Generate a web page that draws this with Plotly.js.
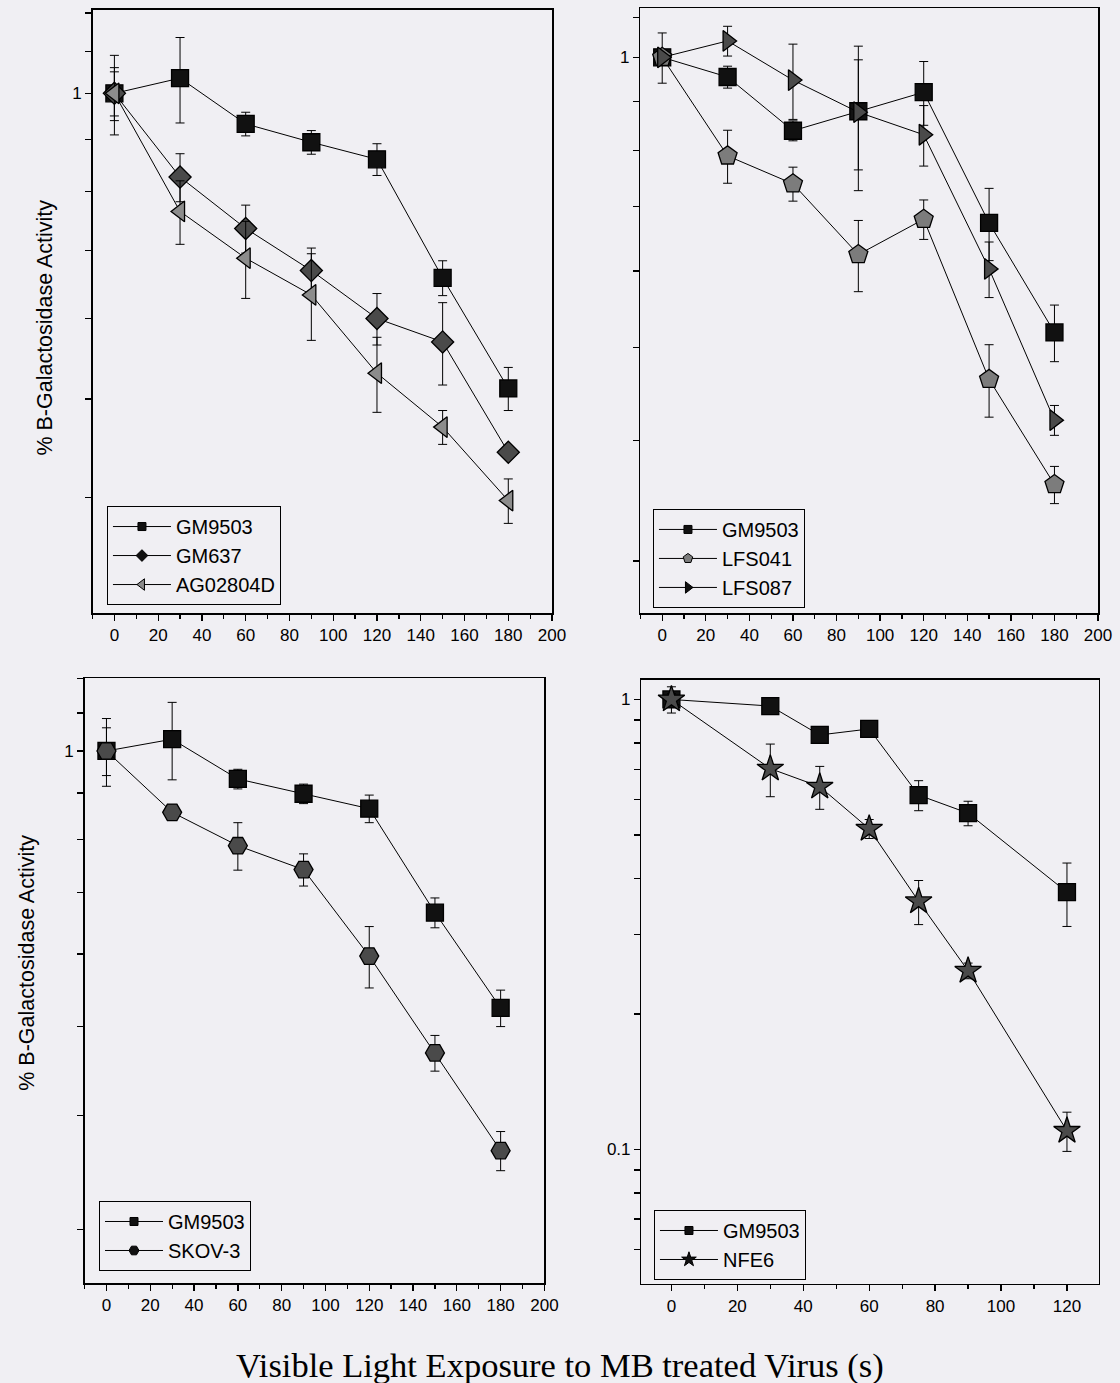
<!DOCTYPE html>
<html><head><meta charset="utf-8">
<script src="https://cdn.plot.ly/plotly-3.0.1.min.js"></script>
<style>html,body{margin:0;padding:0;background:#f0eff3;}</style>
</head><body><div id="chart" style="width:1120px;height:1383px;"></div>
<script>
// ---- Panel A (top-left)
const timeA = [0, 30, 60, 90, 120, 150, 180];
const gm9503A = [1.0, 1.035, 0.933, 0.895, 0.861, 0.658, 0.512];
const gm9503AErr = [0.09, 0.10, 0.025, 0.024, 0.031, 0.026, 0.025];
const gm637A = [1.0, 0.827, 0.736, 0.669, 0.600, 0.569, 0.443];
const gm637AErr = [0.06, 0.045, 0.04, 0.035, 0.035, 0.053, 0.0];
const ag02804dA = [1.0, 0.765, 0.688, 0.633, 0.530, 0.469, 0.397];
const ag02804dAErr = [0.05, 0.055, 0.06, 0.062, 0.045, 0.018, 0.02];
// ---- Panel B (top-right)
const timeB = [0, 30, 60, 90, 120, 150, 180];
const gm9503B = [1.0, 0.954, 0.839, 0.879, 0.920, 0.673, 0.518];
const gm9503BErr = [0.06, 0.025, 0.02, 0.115, 0.07, 0.058, 0.035];
const lfs041B = [1.0, 0.790, 0.739, 0.624, 0.679, 0.463, 0.360];
const lfs041BErr = [0.0, 0.05, 0.03, 0.053, 0.032, 0.04, 0.016];
const lfs087B = [1.0, 1.040, 0.947, 0.877, 0.831, 0.603, 0.420];
const lfs087BErr = [0.0, 0.037, 0.085, 0.15, 0.06, 0.04, 0.015];
// ---- Panel C (bottom-left)
const timeC = [0, 30, 60, 90, 120, 150, 180];
const gm9503C = [1.0, 1.030, 0.932, 0.898, 0.865, 0.666, 0.524];
const gm9503CErr = [0.085, 0.10, 0.023, 0.022, 0.03, 0.025, 0.024];
const skov3C = [1.0, 0.857, 0.788, 0.742, 0.597, 0.468, 0.366];
const skov3CErr = [0.06, 0.0, 0.047, 0.03, 0.046, 0.021, 0.018];
// ---- Panel D (bottom-right)
const timeD = [0, 30, 45, 60, 75, 90, 120];
const gm9503D = [1.0, 0.967, 0.834, 0.860, 0.613, 0.559, 0.373];
const gm9503DErr = [0.067, 0, 0, 0, 0.047, 0.035, 0.06];
const nfe6D = [1.0, 0.702, 0.640, 0.516, 0.356, 0.2495, 0.110];
const nfe6DErr = [0.03, 0.094, 0.07, 0.025, 0.04, 0.01, 0.011];
// ---- y tick values
const yTicksA = [1.2, 1.1, 1, 0.9, 0.8, 0.7, 0.6, 0.5, 0.4];
const yTicksB = [1.1, 1, 0.9, 0.8, 0.7, 0.6, 0.5, 0.4, 0.3];
const yTicksC = [1.2, 1.1, 1, 0.9, 0.8, 0.7, 0.6, 0.5, 0.4, 0.3];
const yTicksD = [1, 0.9, 0.8, 0.7, 0.6, 0.5, 0.4, 0.3, 0.2, 0.1, 0.09, 0.08, 0.07, 0.06, 0.05];
const yLabel = '% B-Galactosidase Activity';
const xLabel = 'Visible Light Exposure to MB treated Virus (s)';

const SANS = 'Liberation Sans, Arial, sans-serif';
const BG = '#f0eff3';

function tr(x, y, err, name, symbol, fill, ax, size) {
  return {
    x: x, y: y, name: name, type: 'scatter', mode: 'lines+markers',
    xaxis: 'x' + ax, yaxis: 'y' + ax, showlegend: false,
    line: {color: '#000', width: 1},
    marker: {symbol: symbol, size: size, color: fill, line: {color: '#000', width: 1.3}},
    error_y: {type: 'data', array: err, visible: true, color: '#000', thickness: 1, width: 4.5}
  };
}
// legend-only entries (no points) with the small key symbols of the original
function key(name, symbol, fill, ax, lg, size) {
  return {
    x: [null], y: [null], name: name, type: 'scatter', mode: 'lines+markers',
    xaxis: 'x' + ax, yaxis: 'y' + ax, legend: lg, showlegend: true,
    line: {color: '#000', width: 1},
    marker: {symbol: symbol, size: size, color: fill, line: {color: '#000', width: 1}}
  };
}

const data = [
  tr(timeA, gm9503A, gm9503AErr, 'GM9503', 'square', '#111', '', 17),
  tr(timeA, gm637A, gm637AErr, 'GM637', 'diamond', '#4a4a4a', '', 17),
  tr(timeA, ag02804dA, ag02804dAErr, 'AG02804D', 'triangle-left', '#8c8c8c', '', 18),
  tr(timeB, gm9503B, gm9503BErr, 'GM9503', 'square', '#111', '2', 17),
  tr(timeB, lfs041B, lfs041BErr, 'LFS041', 'pentagon', '#7c7c7c', '2', 20),
  tr(timeB, lfs087B, lfs087BErr, 'LFS087', 'triangle-right', '#4a4a4a', '2', 18),
  tr(timeC, gm9503C, gm9503CErr, 'GM9503', 'square', '#111', '3', 17),
  tr(timeC, skov3C, skov3CErr, 'SKOV-3', 'hexagon2', '#4a4a4a', '3', 19),
  tr(timeD, gm9503D, gm9503DErr, 'GM9503', 'square', '#111', '4', 17),
  tr(timeD, nfe6D, nfe6DErr, 'NFE6', 'star', '#4a4a4a', '4', 20),
  key('GM9503', 'square', '#111', '', 'legend', 8),
  key('GM637', 'diamond', '#111', '', 'legend', 9),
  key('AG02804D', 'triangle-left', '#8c8c8c', '', 'legend', 10),
  key('GM9503', 'square', '#111', '2', 'legend2', 8),
  key('LFS041', 'pentagon', '#7c7c7c', '2', 'legend2', 10),
  key('LFS087', 'triangle-right', '#111', '2', 'legend2', 10),
  key('GM9503', 'square', '#111', '3', 'legend3', 8),
  key('SKOV-3', 'hexagon2', '#111', '3', 'legend3', 10),
  key('GM9503', 'square', '#111', '4', 'legend4', 8),
  key('NFE6', 'star', '#111', '4', 'legend4', 11)
];

function xax(domain, range, anchor) {
  return {
    domain: domain, range: range, anchor: anchor, dtick: 20, tick0: 0,
    showline: true, mirror: true, linecolor: '#000', linewidth: 1.5,
    ticks: 'outside', ticklen: 6, tickwidth: 1.3, tickcolor: '#000',
    minor: {dtick: 10, tick0: 0, ticks: 'outside', ticklen: 4, tickwidth: 1.3, tickcolor: '#000', showgrid: false},
    showgrid: false, zeroline: false, tickfont: {family: SANS, size: 17, color: '#000'}
  };
}
function yax(domain, range, anchor, vals) {
  return {
    domain: domain, range: range, anchor: anchor, type: 'log',
    tickmode: 'array', tickvals: vals,
    ticktext: vals.map(v => v === 1 ? '1' : (v === 0.1 ? '0.1' : '')),
    showline: true, mirror: true, linecolor: '#000', linewidth: 1.5,
    ticks: 'outside', ticklen: 6, tickwidth: 1.3, tickcolor: '#000',
    showgrid: false, zeroline: false, tickfont: {family: SANS, size: 17, color: '#000'}
  };
}
function leg(x, y) {
  return {x: x, y: y, xanchor: 'left', yanchor: 'top', bgcolor: 'rgba(0,0,0,0)',
    bordercolor: '#000', borderwidth: 1, font: {family: SANS, size: 20, color: '#000'},
    itemwidth: 58, tracegroupgap: 0};
}

const layout = {
  width: 1120, height: 1383, margin: {l: 0, r: 0, t: 0, b: 0},
  paper_bgcolor: BG, plot_bgcolor: BG, showlegend: true,
  xaxis: xax([0.0826, 0.4929], [-10, 200], 'y'),
  yaxis: yax([0.5565, 0.99277], [-0.5123, 0.0821], 'x', yTicksA),
  xaxis2: xax([0.5718, 0.9804], [-10, 200], 'y2'),
  yaxis2: yax([0.5565, 0.9940], [-0.5774, 0.0509], 'x2', yTicksB),
  xaxis3: xax([0.0755, 0.4861], [-10, 200], 'y3'),
  yaxis3: yax([0.0723, 0.50976], [-0.5811, 0.0797], 'x3', yTicksC),
  xaxis4: xax([0.5727, 0.9809], [-9.1, 129.6], 'y4'),
  yaxis4: yax([0.0716, 0.50832], [-1.299, 0.0433], 'x4', yTicksD),
  legend: leg(0.0955, 0.6341),
  legend2: leg(0.5830, 0.6320),
  legend3: leg(0.0884, 0.1316),
  legend4: leg(0.5839, 0.1251),
  annotations: [
    {text: yLabel, xref: 'paper', yref: 'paper', x: 0.0398, y: 0.7628, textangle: -90,
     xanchor: 'center', yanchor: 'middle',
     showarrow: false, font: {family: SANS, size: 21.5, color: '#000'}},
    {text: yLabel, xref: 'paper', yref: 'paper', x: 0.0239, y: 0.3037, textangle: -90,
     xanchor: 'center', yanchor: 'middle',
     showarrow: false, font: {family: SANS, size: 21.5, color: '#000'}},
    {text: xLabel, xref: 'paper', yref: 'paper', x: 0.5, y: 0.0123,
     xanchor: 'center', yanchor: 'middle',
     showarrow: false, font: {family: 'Liberation Serif, Times New Roman, serif', size: 34.5, color: '#000'}}
  ]
};

Plotly.newPlot('chart', data, layout, {staticPlot: true});
</script>
</body></html>
